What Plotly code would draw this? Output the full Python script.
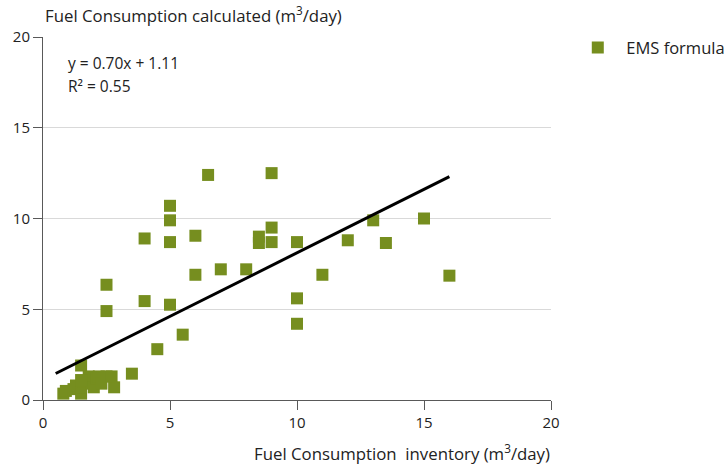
import plotly.graph_objects as go

# Data
inventory = [6.5, 9.0, 5.0, 5.0, 4.0, 5.0, 6.0, 8.5, 8.5, 9.0, 9.0, 10.0,
             12.0, 13.0, 13.5, 15.0, 16.0, 11.0, 6.0, 7.0, 8.0, 10.0, 10.0,
             4.0, 5.0, 2.5, 2.5, 5.5, 4.5, 3.5, 2.8, 1.5,
             0.8, 0.9, 1.2, 1.3, 1.5, 1.5, 1.6, 1.8, 1.9, 2.0, 2.1, 2.2,
             2.3, 2.5, 2.7, 1.5]
calculated = [12.4, 12.5, 10.7, 9.9, 8.9, 8.7, 9.05, 9.0, 8.65, 9.5, 8.7, 8.7,
              8.8, 9.9, 8.65, 10.0, 6.85, 6.9, 6.9, 7.2, 7.2, 5.6, 4.2,
              5.45, 5.25, 6.35, 4.9, 3.6, 2.8, 1.45, 0.7, 1.9,
              0.35, 0.5, 0.6, 0.8, 0.35, 0.7, 1.0, 1.3, 0.9, 0.7, 1.2, 1.3,
              0.9, 1.3, 1.3, 1.1]

slope = 0.70
intercept = 1.11
r_squared = 0.55
trend_x = [0.5, 16.0]

series_name = "EMS formula"
x_ticks = [0, 5, 10, 15, 20]
y_ticks = [0, 5, 10, 15, 20]

green = "#768e1f"
font_family = "Open Sans, Noto Sans, sans-serif"

fig = go.Figure()
fig.add_trace(go.Scatter(
    x=inventory, y=calculated, mode="markers", name=series_name,
    marker=dict(symbol="square", size=12, color=green, line=dict(width=0)),
))
fig.add_trace(go.Scatter(
    x=trend_x, y=[slope * v + intercept for v in trend_x], mode="lines",
    line=dict(color="black", width=3), showlegend=False, hoverinfo="skip",
))

axis_common = dict(
    showline=True, linecolor="#595959", linewidth=1,
    ticks="outside", ticklen=9, tickcolor="#595959", tickwidth=1,
    tickfont=dict(size=15, color="#222", family=font_family),
    zeroline=False, range=[0, 20],
)

fig.update_layout(
    width=726, height=465,
    margin=dict(l=43, r=175, t=37, b=65, autoexpand=False),
    paper_bgcolor="white", plot_bgcolor="white",
    font=dict(family=font_family, color="#222"),
    xaxis=dict(**axis_common, tickvals=x_ticks, showgrid=False),
    yaxis=dict(**axis_common, tickvals=y_ticks, showgrid=True,
               gridcolor="#d9d9d9", gridwidth=1),
    showlegend=True,
    legend=dict(x=1.036, y=0.97, xanchor="left", yanchor="middle",
                font=dict(size=16.5, color="#222", family=font_family),
                bgcolor="rgba(0,0,0,0)", itemwidth=47),
    annotations=[
        dict(text=f"y = {slope:.2f}x + {intercept:.2f}", xref="paper", yref="paper",
             x=0.045, y=0.928, xanchor="left", yanchor="middle", showarrow=False,
             font=dict(size=15.5, color="#222", family=font_family)),
        dict(text=f"R² = {r_squared:.2f}", xref="paper", yref="paper",
             x=0.045, y=0.866, xanchor="left", yanchor="middle", showarrow=False,
             font=dict(size=15.5, color="#222", family=font_family)),
        dict(text="Fuel Consumption calculated (m<sup>3</sup>/day)", xref="paper", yref="paper",
             x=0.0, y=1.062, xanchor="left", yanchor="middle", showarrow=False,
             font=dict(size=16.8, color="#222", family=font_family)),
        dict(text="Fuel Consumption\u00a0 inventory (m<sup>3</sup>/day)", xref="paper", yref="paper",
             x=1.002, y=-0.144, xanchor="right", yanchor="middle", showarrow=False,
             font=dict(size=16.8, color="#222", family=font_family)),
    ],
)

fig.write_html("out.html")
